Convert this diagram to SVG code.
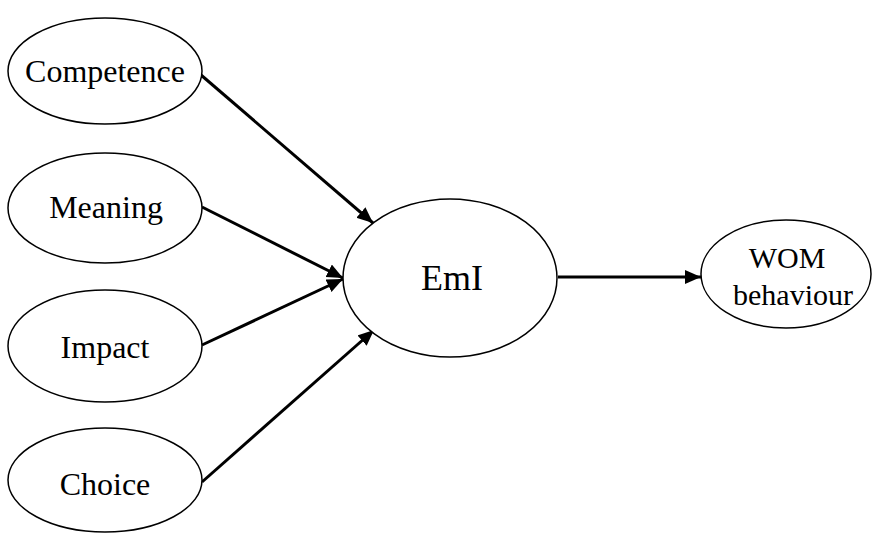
<svg xmlns="http://www.w3.org/2000/svg" width="872" height="535" viewBox="0 0 872 535">
<style>
.node ellipse{fill:#fff;stroke:#000;stroke-width:1.5}
.node text{font-family:"Liberation Serif","Times New Roman",serif;font-size:32px;fill:#000;text-anchor:middle}
.node text.sm{font-size:30px}
.conn line{stroke:#000;stroke-width:3;marker-end:url(#ah)}
</style>
<defs>
<marker id="ah" markerUnits="userSpaceOnUse" markerWidth="18" markerHeight="16" refX="16" refY="7" orient="auto">
<path d="M0,0 L16,7 L0,14 Z" fill="#000"/>
</marker>
</defs>
<rect width="872" height="535" fill="#fff"/>
<g class="conn">
<line x1="201" y1="75" x2="373" y2="223"/>
<line x1="202" y1="207" x2="343" y2="278"/>
<line x1="202" y1="345" x2="343" y2="279"/>
<line x1="202" y1="482" x2="374" y2="330"/>
<line x1="558" y1="277" x2="701" y2="277"/>
</g>
<g id="competence" class="node"><ellipse cx="105" cy="71" rx="97" ry="53"/><text x="105" y="82">Competence</text></g>
<g id="meaning" class="node"><ellipse cx="105" cy="208" rx="97" ry="55"/><text x="106" y="218">Meaning</text></g>
<g id="impact" class="node"><ellipse cx="105" cy="346" rx="97" ry="56"/><text x="105" y="358">Impact</text></g>
<g id="choice" class="node"><ellipse cx="105" cy="480" rx="97" ry="52"/><text x="105" y="495">Choice</text></g>
<g id="emi" class="node"><ellipse cx="450" cy="278" rx="107" ry="79"/><text x="452" y="290" style="font-size:36px">EmI</text></g>
<g id="wom" class="node"><ellipse cx="786" cy="274" rx="85" ry="54"/><text class="sm" x="787" y="268">WOM</text><text class="sm" x="793" y="305">behaviour</text></g>
</svg>
